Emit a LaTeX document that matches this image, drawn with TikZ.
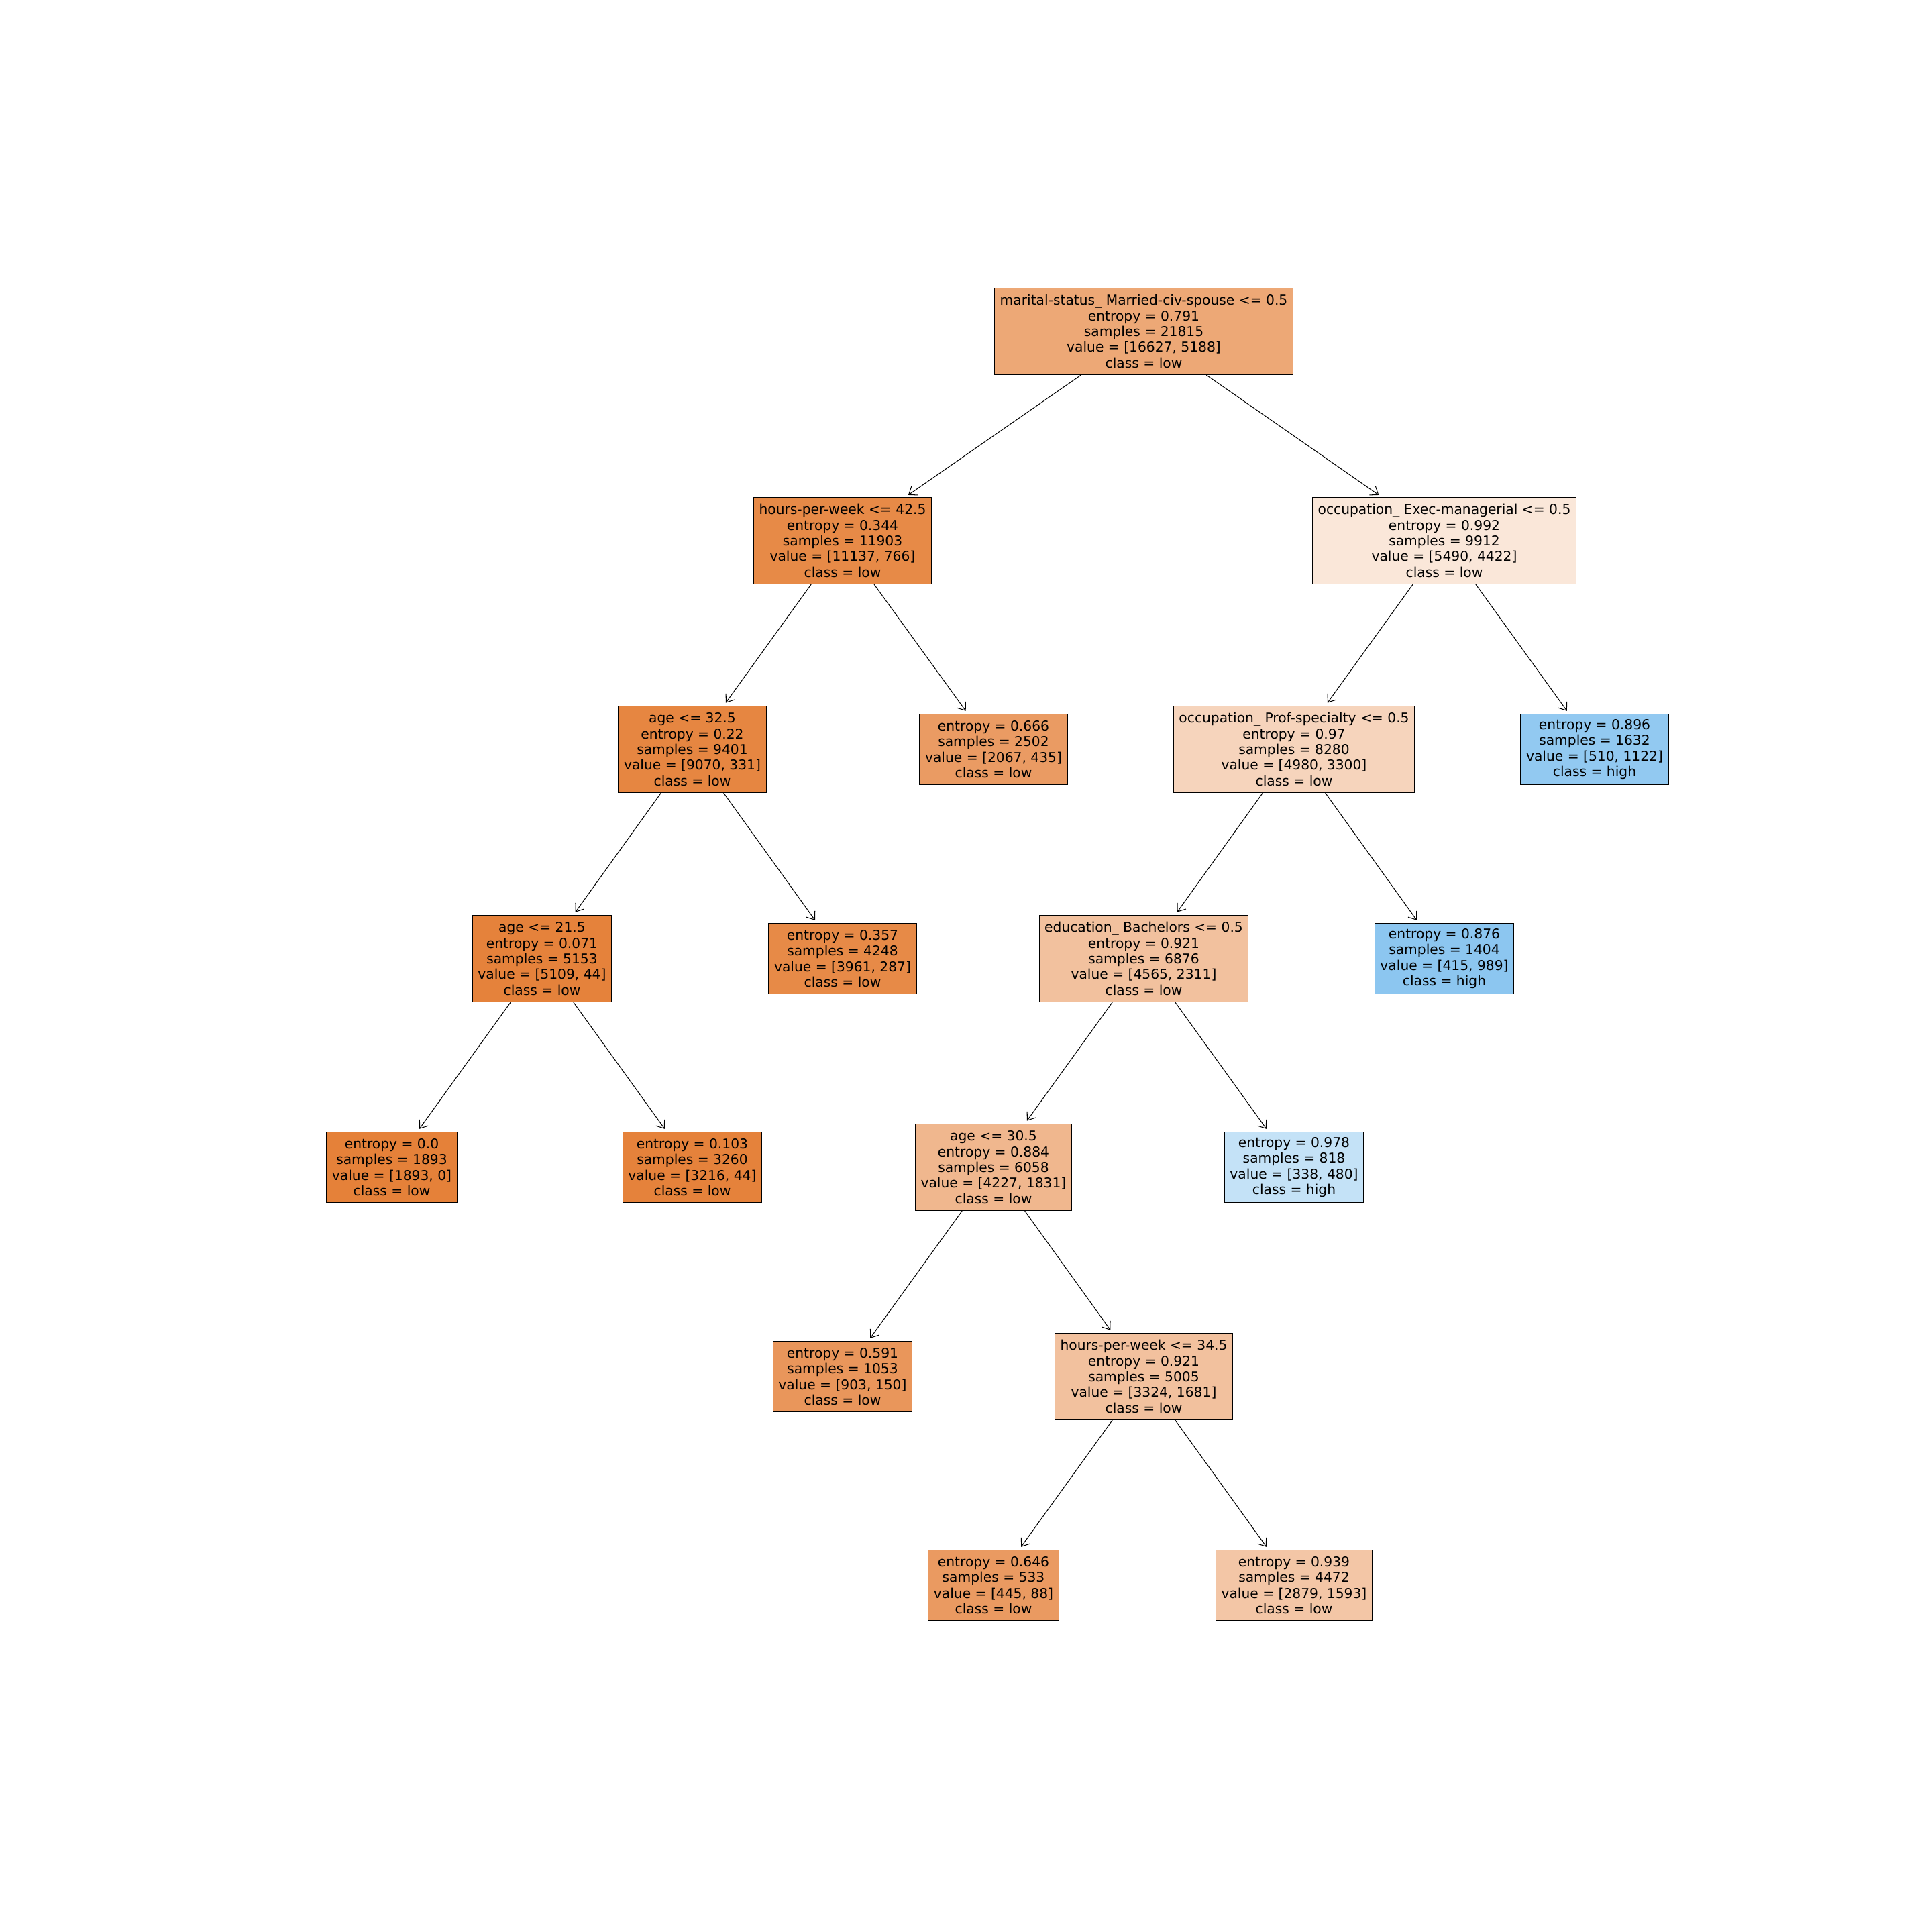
\documentclass[tikz,border=0pt]{standalone}
\usepackage{fontspec}
\setmainfont{DejaVu Sans}
\usepackage{xcolor}
\usetikzlibrary{arrows.meta, positioning}

\definecolor{lowc}{HTML}{E58139}
\definecolor{highc}{HTML}{399DE5}

\tikzset{
  split/.style={draw=black, line width=0.3pt, align=center, inner xsep=2.3pt,
    inner ysep=0.5pt, minimum height=1.29cm, font=\fontsize{5.76}{6.64}\selectfont},
  leaf/.style={split, minimum height=1.047cm},
  edge/.style={->, line width=0.3pt, shorten >=1.5pt}
}

\begin{document}
\begin{tikzpicture}[>={Straight Barb[length=3pt,width=4.5pt]}]
    \useasboundingbox (0,0) rectangle (28.8,28.8);

    % depth 0
    \node[split, fill=lowc!69!white] (root) at (17.05,23.86)
      {marital-status\_ Married-civ-spouse <= 0.5\\entropy = 0.791\\samples = 21815\\value = [16627, 5188]\\class = low};

    % depth 1
    \node[split, fill=lowc!93!white] (hours42) at (12.56,20.74)
      {hours-per-week <= 42.5\\entropy = 0.344\\samples = 11903\\value = [11137, 766]\\class = low};
    \node[split, fill=lowc!19!white] (exec) at (21.53,20.74)
      {occupation\_ Exec-managerial <= 0.5\\entropy = 0.992\\samples = 9912\\value = [5490, 4422]\\class = low};

    % depth 2
    \node[split, fill=lowc!96!white] (age32) at (10.32,17.63)
      {age <= 32.5\\entropy = 0.22\\samples = 9401\\value = [9070, 331]\\class = low};
    \node[leaf, fill=lowc!79!white] (leafA) at (14.81,17.63)
      {entropy = 0.666\\samples = 2502\\value = [2067, 435]\\class = low};
    \node[split, fill=lowc!34!white] (prof) at (19.29,17.63)
      {occupation\_ Prof-specialty <= 0.5\\entropy = 0.97\\samples = 8280\\value = [4980, 3300]\\class = low};
    \node[leaf, fill=highc!55!white] (leafB) at (23.77,17.63)
      {entropy = 0.896\\samples = 1632\\value = [510, 1122]\\class = high};

    % depth 3
    \node[split, fill=lowc!99!white] (age21) at (8.08,14.51)
      {age <= 21.5\\entropy = 0.071\\samples = 5153\\value = [5109, 44]\\class = low};
    \node[leaf, fill=lowc!93!white] (leafC) at (12.56,14.51)
      {entropy = 0.357\\samples = 4248\\value = [3961, 287]\\class = low};
    \node[split, fill=lowc!49!white] (edu) at (17.05,14.51)
      {education\_ Bachelors <= 0.5\\entropy = 0.921\\samples = 6876\\value = [4565, 2311]\\class = low};
    \node[leaf, fill=highc!58!white] (leafD) at (21.53,14.51)
      {entropy = 0.876\\samples = 1404\\value = [415, 989]\\class = high};

    % depth 4
    \node[leaf, fill=lowc] (leafE) at (5.84,11.40)
      {entropy = 0.0\\samples = 1893\\value = [1893, 0]\\class = low};
    \node[leaf, fill=lowc!99!white] (leafF) at (10.32,11.40)
      {entropy = 0.103\\samples = 3260\\value = [3216, 44]\\class = low};
    \node[split, fill=lowc!57!white] (age30) at (14.81,11.40)
      {age <= 30.5\\entropy = 0.884\\samples = 6058\\value = [4227, 1831]\\class = low};
    \node[leaf, fill=highc!30!white] (leafG) at (19.29,11.40)
      {entropy = 0.978\\samples = 818\\value = [338, 480]\\class = high};

    % depth 5
    \node[leaf, fill=lowc!83!white] (leafH) at (12.56,8.28)
      {entropy = 0.591\\samples = 1053\\value = [903, 150]\\class = low};
    \node[split, fill=lowc!49!white] (hours34) at (17.05,8.28)
      {hours-per-week <= 34.5\\entropy = 0.921\\samples = 5005\\value = [3324, 1681]\\class = low};

    % depth 6
    \node[leaf, fill=lowc!80!white] (leafI) at (14.81,5.17)
      {entropy = 0.646\\samples = 533\\value = [445, 88]\\class = low};
    \node[leaf, fill=lowc!45!white] (leafJ) at (19.29,5.17)
      {entropy = 0.939\\samples = 4472\\value = [2879, 1593]\\class = low};

    % Edges
    \draw[edge] (root) -- (hours42);
    \draw[edge] (root) -- (exec);
    \draw[edge] (hours42) -- (age32);
    \draw[edge] (hours42) -- (leafA);
    \draw[edge] (exec) -- (prof);
    \draw[edge] (exec) -- (leafB);
    \draw[edge] (age32) -- (age21);
    \draw[edge] (age32) -- (leafC);
    \draw[edge] (prof) -- (edu);
    \draw[edge] (prof) -- (leafD);
    \draw[edge] (age21) -- (leafE);
    \draw[edge] (age21) -- (leafF);
    \draw[edge] (edu) -- (age30);
    \draw[edge] (edu) -- (leafG);
    \draw[edge] (age30) -- (leafH);
    \draw[edge] (age30) -- (hours34);
    \draw[edge] (hours34) -- (leafI);
    \draw[edge] (hours34) -- (leafJ);
  \end{tikzpicture}
\end{document}
